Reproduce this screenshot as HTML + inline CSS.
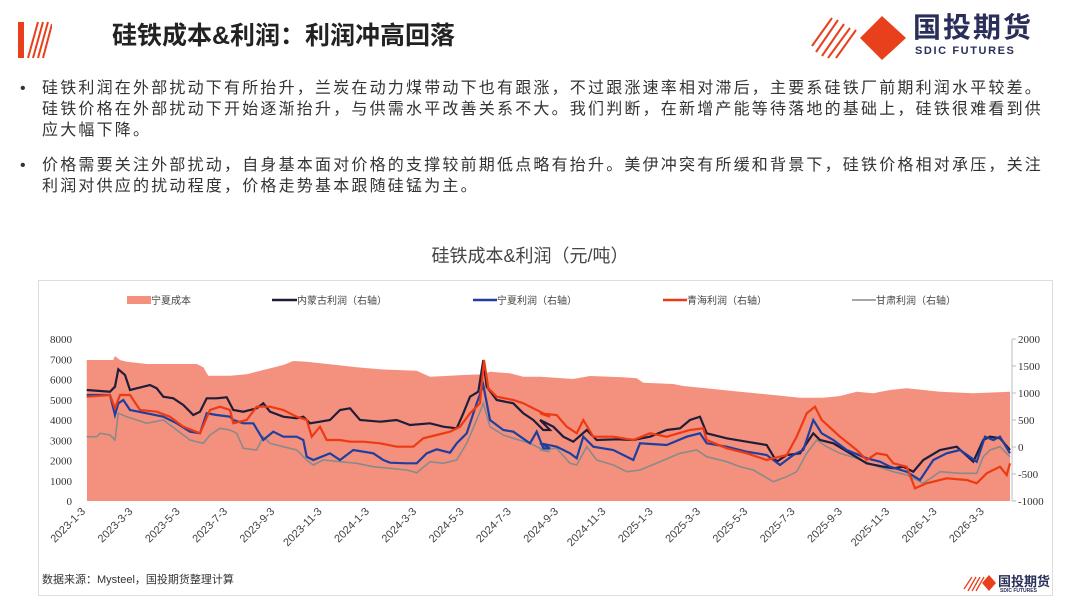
<!DOCTYPE html>
<html><head><meta charset="utf-8"><style>
*{margin:0;padding:0;box-sizing:border-box}
body{width:1080px;height:608px;background:#fff;position:relative;overflow:hidden;font-family:"Liberation Sans","Noto Sans CJK SC",sans-serif;color:#222}
.abs{position:absolute;white-space:nowrap;line-height:1}
.title{left:112px;top:24px;font-size:25px;font-weight:bold;color:#222}
.body{left:42px;font-size:16px;letter-spacing:2.2px;line-height:21px;color:#333}
.bul{left:20px;font-size:16px;color:#333;line-height:21px}
</style></head><body>
<svg class="abs" style="left:18px;top:20px" width="34" height="40">
<rect x="0" y="2" width="6" height="36" fill="#e8401c"/>
<g stroke="#e8401c" stroke-width="2"><line x1="10" y1="38" x2="20" y2="2"/><line x1="15" y1="38" x2="25" y2="2"/><line x1="20" y1="38" x2="30" y2="2"/><line x1="25" y1="38" x2="34" y2="4"/></g></svg>
<div class="abs title">硅铁成本&amp;利润：利润冲高回落</div>
<svg class="abs" style="left:810px;top:14px" width="100" height="46">
<g stroke="#e8401c" stroke-width="2"><line x1="2" y1="32" x2="22" y2="4"/><line x1="6" y1="38" x2="28" y2="6"/><line x1="12" y1="42" x2="34" y2="10"/><line x1="18" y1="44" x2="40" y2="14"/><line x1="26" y1="44" x2="46" y2="16"/></g>
<polygon points="72,2 96,24 72,46 50,24" fill="#e8401c"/></svg>
<div class="abs" style="left:913px;top:14px;font-size:28px;font-weight:bold;color:#2a2f5a;letter-spacing:2px">国投期货</div>
<div class="abs" style="left:915px;top:46px;font-size:11px;font-weight:bold;color:#2a2f5a;letter-spacing:1.6px">SDIC FUTURES</div>

<div class="abs bul" style="top:78px">•</div>
<div class="abs body" style="top:78px">硅铁利润在外部扰动下有所抬升，兰炭在动力煤带动下也有跟涨，不过跟涨速率相对滞后，主要系硅铁厂前期利润水平较差。<br>硅铁价格在外部扰动下开始逐渐抬升，与供需水平改善关系不大。我们判断，在新增产能等待落地的基础上，硅铁很难看到供<br>应大幅下降。</div>
<div class="abs bul" style="top:155px">•</div>
<div class="abs body" style="top:155px">价格需要关注外部扰动，自身基本面对价格的支撑较前期低点略有抬升。美伊冲突有所缓和背景下，硅铁价格相对承压，关注<br>利润对供应的扰动程度，价格走势基本跟随硅锰为主。</div>

<div class="abs" style="left:0;width:1060px;text-align:center;top:247px;font-size:18px;color:#444">硅铁成本&amp;利润（元/吨）</div>
<div class="abs" style="left:38px;top:280px;width:1015px;height:316px;border:1px solid #ddd"></div>
<svg id="ch" class="abs" style="left:0;top:0" width="1080" height="608"></svg>
<div class="abs" style="left:42px;top:575px;font-size:11px;color:#333">数据来源：Mysteel，国投期货整理计算</div>
<svg class="abs" style="left:962px;top:573px" width="34" height="20"><g stroke="#e8401c" stroke-width="1.3"><line x1="2" y1="16" x2="10" y2="4"/><line x1="6" y1="18" x2="14" y2="4"/><line x1="10" y1="18" x2="18" y2="4"/><line x1="14" y1="18" x2="22" y2="4"/></g><polygon points="27,2 34,10 27,18 20,10" fill="#e8401c"/></svg>
<div class="abs" style="left:998px;top:575px;font-size:13px;font-weight:bold;color:#2a2f5a">国投期货</div>
<div class="abs" style="left:1000px;top:589px;font-size:5px;font-weight:bold;color:#2a2f5a">SDIC FUTURES</div>
<script>
function cv(a,z){var o=[];for(var i=0;i<a.length;i+=2){o.push([(z==2?30:540)+a[i]/3,280+a[i+1]/3]);}return o;}
function P(a2,a3){return cv(a2,2).concat(cv(a3,3));}
var cost=P([170,240,250,240,255,228,270,240,290,245,350,252,500,252,520,262,535,287,600,287,650,283,700,270,760,255,790,243,830,245,920,255,980,262,1050,268,1160,272,1200,290,1260,287,1300,285,1360,283,1380,275,1440,280,1480,290,1560,290],[0,290,100,297,150,288,250,292,290,295,310,308,400,312,430,318,520,327,600,335,700,345,780,353,850,353,900,348,950,335,1000,340,1050,330,1100,325,1200,335,1300,340,1410,335]);
var blk=P([170,330,240,335,255,320,265,268,285,285,300,330,320,325,340,320,360,315,380,325,400,350,430,355,460,375,490,405,510,395,530,355,560,355,590,352,610,390,640,395,680,385,700,370,720,395,760,410,800,415,820,410,840,430,870,425,900,420,930,390,960,385,990,420,1050,425,1100,420,1140,435,1200,430,1240,440,1280,445,1300,400,1320,350,1345,335,1360,240,1370,320,1400,360,1450,370,1480,400,1510,420,1540,450,1560,450],[0,420,40,440,70,470,100,485,140,450,170,480,230,478,280,480,330,470,380,450,420,445,450,420,480,410,500,460,560,475,620,485,680,495,710,545,740,525,780,520,820,460,840,480,880,490,930,520,980,550,1030,560,1060,565,1090,560,1120,575,1150,540,1200,510,1250,500,1300,545,1330,480,1350,470,1380,475,1410,510]);
var red=P([170,350,240,345,255,385,270,345,300,345,330,390,380,395,420,410,460,440,510,460,540,390,570,380,600,390,610,430,650,420,680,380,720,380,760,390,800,410,830,420,845,470,870,440,890,480,930,480,960,485,1000,485,1050,490,1100,500,1150,500,1180,475,1220,465,1260,455,1290,440,1320,400,1350,370,1362,240,1375,325,1400,350,1450,360,1480,370,1520,390,1560,410],[0,400,50,405,80,440,110,460,130,420,160,470,220,470,280,480,330,460,380,470,450,450,490,445,500,480,560,505,620,520,680,540,740,525,770,470,800,400,825,380,845,420,900,470,950,510,980,540,1010,520,1040,525,1060,550,1100,560,1125,625,1160,610,1220,595,1280,600,1310,610,1340,580,1380,560,1400,585,1410,550]);
var blu=P([170,345,240,345,255,405,265,370,280,360,300,390,350,400,400,410,440,430,480,455,510,460,530,400,560,405,600,410,610,420,640,430,670,430,700,480,730,455,760,470,800,470,820,480,830,530,850,540,900,520,930,540,970,510,1030,520,1060,540,1080,548,1130,550,1160,550,1190,520,1220,508,1260,518,1280,490,1310,460,1340,370,1360,315,1380,420,1420,450,1450,455,1500,490,1520,455,1540,505,1560,505],[0,490,50,500,90,520,110,535,130,470,160,500,220,510,280,540,300,490,380,495,440,470,480,460,500,490,560,500,620,515,680,525,720,555,760,525,790,510,820,420,845,460,880,480,920,510,980,535,1020,545,1050,560,1100,575,1140,600,1180,540,1220,520,1260,510,1310,545,1335,470,1360,480,1380,470,1410,520]);
var gry=P([170,470,200,470,210,460,240,465,255,480,265,400,290,410,350,430,400,420,440,450,480,480,520,490,540,465,570,445,600,450,620,460,640,505,680,510,700,470,720,490,760,500,800,510,830,540,850,555,880,540,930,545,980,550,1030,560,1080,565,1130,570,1160,578,1200,545,1240,550,1280,540,1310,490,1340,420,1360,370,1380,440,1420,465,1450,475,1500,490,1540,510,1560,515],[0,510,50,505,90,550,110,555,140,500,170,540,220,555,260,575,300,570,360,545,420,520,470,510,500,530,560,545,600,560,640,570,700,605,740,590,770,575,800,520,830,480,860,500,900,520,950,535,1000,555,1060,575,1100,585,1150,610,1200,575,1260,580,1310,580,1330,530,1350,510,1380,500,1410,530]);
function pts(a){return a.map(function(p){return p[0].toFixed(1)+','+p[1].toFixed(1)}).join(' ');}
var s='';
s+='<polygon points="'+pts(cost)+' 1010,501 87,501" fill="#f4917e"/>';
s+='<polyline points="'+pts(gry)+'" fill="none" stroke="#8a8a8a" stroke-width="1.6"/>';
s+='<polyline points="'+pts(blk)+'" fill="none" stroke="#1f1d3a" stroke-width="2.2"/>';
s+='<polyline points="'+pts(blu)+'" fill="none" stroke="#1e3fa0" stroke-width="2.2"/>';
s+='<polyline points="'+pts(red)+'" fill="none" stroke="#ee3a12" stroke-width="2.2"/>';
s+='<line x1="1012" y1="339" x2="1012" y2="501" stroke="#bbb"/>';
var t='font-family="Liberation Serif,serif" font-size="11" fill="#333"';
for(var i=0;i<=8;i++){s+='<text x="72" y="'+(505-i*20.25)+'" text-anchor="end" '+t+'>'+(i*1000)+'</text>';}
for(var i=0;i<=6;i++){var y=501-i*27;s+='<line x1="1012" y1="'+y+'" x2="1016" y2="'+y+'" stroke="#bbb"/><text x="1018" y="'+(y+4)+'" '+t+'>'+(i*500-1000)+'</text>';}
var L=['2023-1-3','2023-3-3','2023-5-3','2023-7-3','2023-9-3','2023-11-3','2024-1-3','2024-3-3','2024-5-3','2024-7-3','2024-9-3','2024-11-3','2025-1-3','2025-3-3','2025-5-3','2025-7-3','2025-9-3','2025-11-3','2026-1-3','2026-3-3'];
for(var i=0;i<L.length;i++){var x=86+i*47.3;s+='<text transform="translate('+x+',512) rotate(-45)" text-anchor="end" font-family="Liberation Sans,sans-serif" font-size="11" fill="#444">'+L[i]+'</text>';}
var lg='font-family="Liberation Sans,Noto Sans CJK SC,sans-serif" font-size="10" fill="#444"';
s+='<rect x="127" y="296" width="24" height="8" fill="#f4917e"/><text x="151" y="304" '+lg+'>宁夏成本</text>';
s+='<line x1="272" y1="300" x2="297" y2="300" stroke="#1f1d3a" stroke-width="2.5"/><text x="297" y="304" '+lg+'>内蒙古利润（右轴）</text>';
s+='<line x1="473" y1="300" x2="497" y2="300" stroke="#1e3fa0" stroke-width="2.5"/><text x="497" y="304" '+lg+'>宁夏利润（右轴）</text>';
s+='<line x1="663" y1="300" x2="687" y2="300" stroke="#ee3a12" stroke-width="2.5"/><text x="687" y="304" '+lg+'>青海利润（右轴）</text>';
s+='<line x1="852" y1="300" x2="876" y2="300" stroke="#8a8a8a" stroke-width="1.5"/><text x="876" y="304" '+lg+'>甘肃利润（右轴）</text>';
document.getElementById('ch').innerHTML=s;
</script>
</body></html>
